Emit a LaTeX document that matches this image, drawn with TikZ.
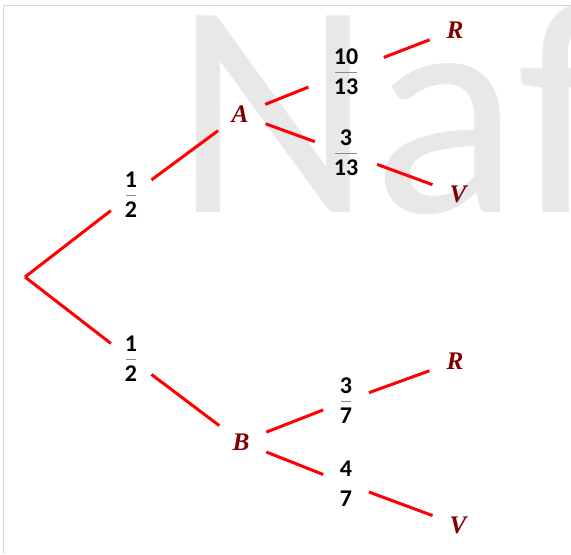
\documentclass[tikz,border=0pt]{standalone}
\usepackage{fontspec}
\setmainfont{Liberation Serif}
\newfontfamily\probfont{Carlito}
\usepackage{tikz}
\definecolor{evtred}{RGB}{128,0,0}
\definecolor{bargray}{RGB}{140,140,140}
\definecolor{markgray}{RGB}{232,232,232}
\definecolor{framegray}{RGB}{215,215,215}
\tikzset{every picture/.style={line width=0.75pt}}
\tikzset{
  branch/.style={draw=red, line width=2.25pt},
  evt/.style={circle, inner sep=0pt, minimum size=40pt, text=evtred, font=\fontsize{19}{22}\selectfont\bfseries\itshape},
  prob/.style={circle, inner sep=0pt, minimum size=#1, align=center, font=\fontsize{18}{22.5}\probfont\bfseries},
  fbar/.style={append after command={([xshift=-#1]\tikzlastnode.center) edge[draw=bargray, line width=0.6pt] ([xshift=#1]\tikzlastnode.center)}},
}

\begin{document}
\begin{tikzpicture}[x=0.75pt,y=0.75pt,yscale=-1,xscale=1]
\useasboundingbox (0,0) rectangle (571,554);

%Watermark
\begin{scope}
\clip (0,0) rectangle (571,554);
\node [anchor=base west, inner sep=0pt, text=markgray, font=\fontsize{230}{230}\probfont] (mark) at (174,212) {Naf};
\end{scope}
%Frame
\draw [framegray] (571,5) -- (3,5) -- (3,554);

%Root
\coordinate (root) at (25,277);
%First level
\node [prob=37.5pt, fbar=4.1pt] (p1) at (131,195) {1\\2};
\node [prob=37.5pt, fbar=4.1pt] (p2) at (131,359) {1\\2};
\node [evt] (A) at (240,114.5) {A};
\node [evt] (B) at (241,442) {B};
%Second level
\node [prob=60pt, fbar=8pt] (q1) at (346,72) {10\\13};
\node [prob=49pt, fbar=8pt] (q2) at (346,153) {3\\13};
\node [prob=36pt, fbar=4pt] (q3) at (346,401) {3\\7};
\node [prob=36pt] (q4) at (346,483.5) {4\\7};
\node [evt] (R1) at (455,30) {R};
\node [evt] (V1) at (458,194) {V};
\node [evt] (R2) at (455,361.5) {R};
\node [evt] (V2) at (458,525) {V};

%Branches
\draw [branch] (root) -- (p1);
\draw [branch] (p1) -- (A);
\draw [branch] (root) -- (p2);
\draw [branch] (p2) -- (B);
\draw [branch] (A) -- (q1);
\draw [branch] (q1) -- (R1);
\draw [branch] (A) -- (q2);
\draw [branch] (q2) -- (V1);
\draw [branch] (B) -- (q3);
\draw [branch] (q3) -- (R2);
\draw [branch] (B) -- (q4);
\draw [branch] (q4) -- (V2);

\end{tikzpicture}
\end{document}
